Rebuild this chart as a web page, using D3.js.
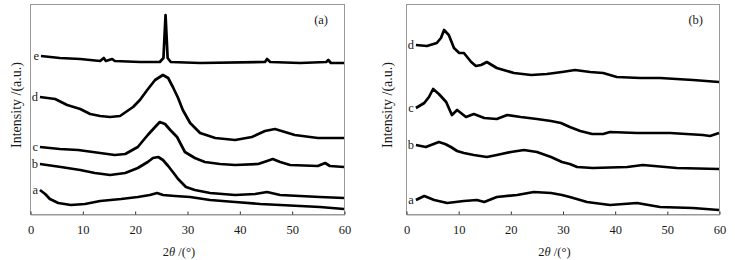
<!DOCTYPE html>
<html>
<head>
<meta charset="utf-8">
<script src="https://cdn.jsdelivr.net/npm/d3@7"></script>
<style>
  body { margin: 0; background: #fff; }
  svg { display: block; }
  text { font-family: "Liberation Serif", "DejaVu Serif", serif; fill: #1a1a1a; }
</style>
</head>
<body>
<div id="chart"></div>
<script>
// x ticks shared by both panels
const xTicks = [0, 10, 20, 30, 40, 50, 60];

// panel (a) - [2theta, intensity (a.u.)]
const aE = [[2.1,158],[5.7,156],[9.6,155],[13.4,153],[14.1,156],[14.5,153],[15.7,155],[16.2,153],[21.0,152],[24.8,152],[25.5,156],[25.9,199],[26.3,156],[26.9,152],[32.5,151],[44.9,152],[45.3,155],[45.9,152],[51.6,151],[56.6,152],[57.0,154],[57.5,151],[60,151]];
const aD = [[1.9,117],[4.8,115],[7.1,109],[9.6,105],[11.5,100],[13.4,98],[15.3,97],[17.2,98],[19.7,107],[21.0,114],[22.4,124],[23.9,134],[25.4,139],[26.4,136],[27.3,127],[28.3,116],[29.2,104],[30.6,91],[32.5,81],[35.4,76],[39.2,74],[42.4,77],[44.9,83],[46.8,85],[48.7,82],[50.6,79],[55.0,76],[60,76]];
const aC = [[1.9,67],[5.7,65],[9.2,64],[13.4,61],[16.2,59],[18.2,60],[20.6,67],[22.5,79],[23.9,87],[24.8,92],[25.8,90],[26.8,84],[28.1,77],[29.6,62],[31.5,56],[33.4,52],[36.3,50],[39.2,49],[43.6,50],[45.3,53],[46.4,55],[47.8,52],[49.7,49],[55.0,48],[56.4,51],[57.3,48],[60,47]];
const aB = [[1.9,50],[5.9,47],[9.6,44],[12.4,41],[15.3,39],[18.2,41],[20.6,46],[22.5,52],[23.5,56],[24.5,57],[25.4,54],[26.4,48],[27.3,42],[28.3,35],[29.8,27],[31.5,24],[34.4,21],[39.2,19],[43.0,20],[45.3,22],[47.8,19],[51.6,18],[55.4,17],[60,16]];
const aA = [[1.9,24],[2.9,20],[3.8,15],[5.4,11],[7.8,9],[10.5,10],[13.4,13],[17.4,15],[20.6,17],[22.9,19],[24.3,21],[25.4,19],[27.7,18],[30.6,17],[34.4,14],[39.2,12],[44.0,10],[47.8,9],[51.6,8],[55.4,7],[60,5]];

// panel (b)
const bD = [[1.9,169],[4.0,168],[5.9,171],[6.7,176],[7.3,184],[8.2,179],[9.2,166],[10.2,161],[11.1,161],[12.5,152],[13.4,148],[14.4,149],[15.5,152],[17.4,146],[20.7,141],[24.0,139],[27.0,140],[29.9,142],[32.4,144],[35.3,142],[37.8,141],[40.4,137],[44.9,136],[48.7,136],[55.0,134],[60,132]];
const bC = [[1.9,106],[3.5,111],[4.4,117],[5.2,125],[6.3,120],[7.7,112],[8.8,99],[9.8,104],[11.5,97],[13.0,100],[15.0,96],[17.4,95],[19.4,99],[22.0,97],[25.1,95],[27.8,93],[29.7,91],[31.4,87],[33.4,83],[35.7,80],[37.8,80],[39.1,82],[44.3,81],[50.6,81],[56.9,79],[58.3,78],[60,81]];
const bB = [[1.9,69],[3.8,67],[6.3,72],[7.5,70],[8.6,67],[9.8,63],[11.1,61],[13.0,59],[15.5,57],[17.4,59],[20.1,62],[22.6,64],[25.1,62],[27.8,57],[29.9,52],[31.4,50],[32.8,47],[35.8,46],[42.4,47],[45.4,49],[51.9,46],[60,45]];
const bA = [[1.9,14],[3.5,18],[5.4,14],[7.9,11],[11.1,13],[13.6,14],[15.0,12],[17.4,17],[21.3,19],[24.5,22],[27.8,21],[29.9,19],[31.4,17],[34.7,12],[39.1,9],[44.3,11],[48.7,7],[55.0,6],[60,4]];

const panels = [
    { tag: '(a)', left: 30, right: 344, yTitleX: 21, lines: [['a', aA], ['b', aB], ['c', aC], ['d', aD], ['e', aE]] },
    { tag: '(b)', left: 406, right: 719, yTitleX: 392, lines: [['a', bA], ['b', bB], ['c', bC], ['d', bD]] }
];

const W = 735, H = 260, plotTop = 4, plotBottom = 214;

const svg = d3.select('#chart').append('svg')
    .attr('width', W)
    .attr('height', H);

function drawPanel(p) {
    const x = d3.scaleLinear().domain([0, 60]).range([p.left, p.right]);
    const y = d3.scaleLinear().domain([0, 210]).range([plotBottom, plotTop]);
    const g = svg.append('g');

    // frame
    g.append('rect')
        .attr('x', p.left + 0.5).attr('y', plotTop + 0.5)
        .attr('width', p.right - p.left).attr('height', plotBottom - plotTop)
        .attr('fill', 'none').attr('stroke', '#999');

    // bottom axis, ticks pointing inward
    const ax = g.append('g')
        .attr('transform', `translate(0.5, ${plotBottom + 0.5})`)
        .call(d3.axisBottom(x).tickValues(xTicks).tickSizeInner(-3).tickSizeOuter(0).tickPadding(11));
    ax.select('.domain').attr('stroke', '#999');
    ax.selectAll('.tick line').attr('stroke', '#333');
    ax.selectAll('.tick text')
        .attr('font-family', '"Liberation Serif", serif')
        .attr('font-size', 12.5).attr('fill', '#1a1a1a');

    const line = d3.line()
        .x(d => x(d[0]))
        .y(d => y(d[1]));

    g.selectAll('.xrd')
        .data(p.lines)
        .join('path')
        .attr('class', 'xrd')
        .attr('fill', 'none')
        .attr('stroke', '#000')
        .attr('stroke-width', 2.7)
        .attr('stroke-linejoin', 'round')
        .attr('d', d => line(d[1]));

    // curve letters
    g.selectAll('.lab')
        .data(p.lines)
        .join('text')
        .attr('class', 'lab')
        .attr('x', d => x(d[1][0][0]) - 2)
        .attr('y', d => y(d[1][0][1]) + 4)
        .attr('text-anchor', 'end')
        .attr('font-size', 12.5)
        .attr('fill', '#000')
        .text(d => d[0]);

    g.append('text')
        .attr('x', p.right - 16).attr('y', 24)
        .attr('text-anchor', 'end')
        .attr('font-size', 12.5)
        .text(p.tag);

    // axis titles
    const xt = g.append('text')
        .attr('x', (p.left + p.right) / 2 - 8).attr('y', 256)
        .attr('text-anchor', 'middle')
        .attr('font-size', 12.5);
    xt.append('tspan').text('2');
    xt.append('tspan').attr('font-style', 'italic').text('θ');
    xt.append('tspan').text(' /(°)');

    g.append('text')
        .attr('transform', `translate(${p.yTitleX}, 105) rotate(-90)`)
        .attr('text-anchor', 'middle')
        .attr('font-size', 14)
        .text('Intensity /(a.u.)');
}

panels.forEach(drawPanel);
</script>
</body>
</html>
